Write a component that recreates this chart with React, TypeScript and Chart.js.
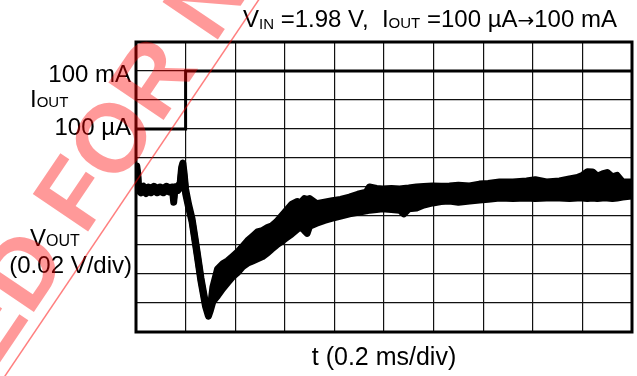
import React, { useEffect, useRef } from "react";
import { Chart, registerables } from "chart.js";

Chart.register(...registerables);

// time axis: 0.2 ms/div, 10 divisions
const timeMin = 0;
const timeMax = 2.0;
const timeStep = 0.2;

// VOUT axis: 0.02 V/div (values in mV deviation), 10 divisions
const voutMin = -100;
const voutMax = 100;
const voutStep = 20;

// IOUT trace (screen divisions, 0..10): 100 µA -> 100 mA step
const ioutTime = [0, 0.2, 0.2, 2.0];
const ioutLevel = [7, 7, 9, 9];

// VOUT trace (ms, mV): upper / lower envelope of the noisy trace
const voutTime = [
  0.0, 0.003, 0.007, 0.01, 0.02, 0.03, 0.04, 0.05, 0.06, 0.072, 0.085, 0.097, 0.11, 0.122, 0.135, 0.148,
  0.152, 0.156, 0.168, 0.178, 0.184, 0.189, 0.194, 0.2, 0.212, 0.226, 0.244, 0.262, 0.28, 0.292, 0.3,
  0.31, 0.329, 0.35, 0.369, 0.389, 0.409, 0.43, 0.45, 0.47, 0.49, 0.51, 0.53, 0.546, 0.567, 0.587, 0.607,
  0.627, 0.651, 0.66, 0.679, 0.69, 0.7, 0.728, 0.76, 0.792, 0.825, 0.861, 0.895, 0.929, 0.941, 0.97, 0.994,
  1.03, 1.063, 1.08, 1.1, 1.131, 1.16, 1.196, 1.23, 1.264, 1.3, 1.345, 1.385, 1.42, 1.466, 1.52, 1.575,
  1.61, 1.655, 1.708, 1.748, 1.78, 1.8, 1.82, 1.841, 1.86, 1.881, 1.9, 1.921, 1.94, 1.962, 2.0,
];
const voutUpper = [
  1.5, 14.5, 9.5, 0.5, -1, 0.5, -1.5, 0, -1, 0.5, -1, 0, -1, 0.5, -0.5, 0,
  -7.5, 0, 0.5, 2.5, 13.5, 16.5, 9.5, -1.5, -12, -22, -42, -63, -80, -87, -83,
  -69, -56.5, -53, -51, -48, -45, -41, -37, -34, -31, -30, -28, -27, -24, -20, -16,
  -12, -10, -11.5, -8, -8.5, -8, -11.5, -10.5, -9.5, -8.5, -7, -5, -3.5, 0, -1, -1.3,
  -1, -1.3, -1, -0.7, 0, 0.3, 0.7, 0.5, 0.7, 1.2, 0.7, 2, 2.5, 3.5, 3.5, 4.2,
  5, 3.5, 4.2, 5.6, 6.5, 8, 10.5, 10.4, 7.5, 9, 10, 7, 8, 3.5, 3.5,
];
const voutLower = [
  -1.5, 11.5, 6.5, -2.5, -4, -2.5, -4.5, -3, -4, -2.5, -4, -3, -4, -2.5, -3.5, -3,
  -10.5, -3, -2.5, -0.5, 10.5, 13.5, 6.5, -4.5, -14, -24, -44, -65, -82, -89, -85,
  -79, -75, -70, -66, -62, -59, -55, -52.5, -51, -49.5, -48, -45.5, -43, -40, -37.5, -35,
  -32.5, -29, -27, -30, -32, -27, -25, -23, -21.5, -20, -18.5, -17.5, -16.5, -16, -15.5, -15,
  -15.5, -16, -18.5, -15, -14.5, -12.5, -11, -10, -9.7, -10.5, -9.7, -9, -8.5, -7.6, -8, -7.6,
  -8, -7.6, -7.6, -8, -7.6, -7.6, -8, -7.6, -8, -7.6, -7.6, -8, -7.6, -7, -6.2,
];

const FONT = '"Liberation Sans", Arial, Helvetica, sans-serif';

type Run = { t: string; s: number; dy?: number; f?: string };

function drawRuns(ctx: CanvasRenderingContext2D, runs: Run[], x: number, y: number, align: "left" | "right" | "center") {
  let total = 0;
  const widths = runs.map((r) => {
    ctx.font = `${r.s}px ${r.f || FONT}`;
    const w = ctx.measureText(r.t).width;
    total += w;
    return w;
  });
  let cx = x;
  if (align === "right") cx = x - total;
  if (align === "center") cx = x - total / 2;
  ctx.textAlign = "left";
  ctx.textBaseline = "alphabetic";
  runs.forEach((r, i) => {
    ctx.font = `${r.s}px ${r.f || FONT}`;
    ctx.fillText(r.t, cx, y + (r.dy || 0));
    cx += widths[i];
  });
}

const decorPlugin = {
  id: "decor",
  beforeDatasetsDraw(chart: any) {
    const { ctx, chartArea } = chart;
    ctx.save();
    ctx.strokeStyle = "#000";
    ctx.lineWidth = 3;
    ctx.strokeRect(chartArea.left, chartArea.top, chartArea.right - chartArea.left, chartArea.bottom - chartArea.top);
    ctx.restore();
  },
  afterDraw(chart: any) {
    const { ctx, chartArea } = chart;
    ctx.save();
    ctx.fillStyle = "#000";
    // title
    drawRuns(
      ctx,
      [
        { t: "V", s: 24 },
        { t: "IN", s: 15, dy: 2 },
        { t: " =1.98 V,  I", s: 24 },
        { t: "OUT", s: 15, dy: 1 },
        { t: " =100 µA", s: 24 },
        { t: "→", s: 20, f: '"DejaVu Sans", sans-serif' },
        { t: "100 mA", s: 24 },
      ],
      430,
      27,
      "center"
    );
    // IOUT labels
    drawRuns(ctx, [{ t: "100 mA", s: 24 }], 131, 82, "right");
    drawRuns(ctx, [{ t: "I", s: 24 }, { t: "OUT", s: 15, dy: 0 }], 30, 107, "left");
    drawRuns(ctx, [{ t: "100 µA", s: 24 }], 131, 135, "right");
    // VOUT labels
    drawRuns(ctx, [{ t: "V", s: 24 }, { t: "OUT", s: 16, dy: 0 }], 30, 246, "left");
    drawRuns(ctx, [{ t: "(0.02 V/div)", s: 24 }], 132, 273, "right");
    // x label
    drawRuns(ctx, [{ t: "t (0.2 ms/div)", s: 25 }], (chartArea.left + chartArea.right) / 2, 365, "center");

    // watermark
    const ang = (-56 * Math.PI) / 180;
    ctx.strokeStyle = "rgba(255,0,0,0.5)";
    ctx.lineWidth = 1.5;
    ctx.beginPath();
    ctx.moveTo(7 - 40 * Math.cos(ang), 373 - 40 * Math.sin(ang));
    ctx.lineTo(7 + 500 * Math.cos(ang), 373 + 500 * Math.sin(ang));
    ctx.stroke();

    const wm = "NOT RECOMMENDED FOR NEW DESIGNS";
    const size = 97;
    ctx.font = `bold ${size}px ${FONT}`;
    const idx = wm.indexOf("FOR") + 1;
    const pre = ctx.measureText(wm.slice(0, idx)).width;
    const ow = ctx.measureText("O").width;
    const capH = size * 0.716;
    const cxO = 110, cyO = 137;
    const bx = cxO + (capH / 2) * Math.sin(-ang);
    const by = cyO + (capH / 2) * Math.cos(-ang);
    ctx.translate(bx, by);
    ctx.rotate(ang);
    ctx.fillStyle = "rgba(255,0,0,0.4)";
    ctx.textBaseline = "alphabetic";
    ctx.textAlign = "left";
    ctx.fillText(wm, -(pre + ow / 2), 0);
    ctx.restore();
  },
};

export default function App() {
  const ref = useRef<HTMLCanvasElement | null>(null);
  useEffect(() => {
    if (!ref.current) return;
    const ticksX: number[] = [];
    for (let i = 0; i <= Math.round((timeMax - timeMin) / timeStep); i++) ticksX.push(timeMin + i * timeStep);
    const chart = new Chart(ref.current, {
      type: "line",
      data: {
        datasets: [
          {
            label: "IOUT",
            data: ioutTime.map((t, i) => ({ x: t, y: ioutLevel[i] })),
            yAxisID: "yI",
            borderColor: "#000",
            borderWidth: 3,
            pointRadius: 0,
            fill: false,
            tension: 0,
          },
          {
            label: "VOUT upper",
            data: voutTime.map((t, i) => ({ x: t, y: voutUpper[i] })),
            yAxisID: "y",
            borderColor: "#000",
            backgroundColor: "#000",
            borderWidth: 7,
            borderJoinStyle: "round",
            borderCapStyle: "round",
            pointRadius: 0,
            fill: "+1",
            tension: 0,
          },
          {
            label: "VOUT lower",
            data: voutTime.map((t, i) => ({ x: t, y: voutLower[i] })),
            yAxisID: "y",
            borderColor: "#000",
            borderWidth: 7,
            borderJoinStyle: "round",
            borderCapStyle: "round",
            pointRadius: 0,
            fill: false,
            tension: 0,
          },
        ],
      },
      options: {
        animation: false,
        responsive: true,
        maintainAspectRatio: false,
        layout: { padding: { left: 136, top: 42, right: 5, bottom: 44 } },
        plugins: { legend: { display: false }, tooltip: { enabled: false } },
        scales: {
          x: {
            type: "linear",
            min: timeMin,
            max: timeMax,
            afterBuildTicks: (s: any) => {
              s.ticks = ticksX.map((v) => ({ value: v }));
            },
            ticks: { display: false },
            grid: { color: "#111", lineWidth: 1.2, drawTicks: false },
            border: { display: false },
          },
          y: {
            type: "linear",
            min: voutMin,
            max: voutMax,
            ticks: { display: false, stepSize: voutStep },
            grid: { color: "#111", lineWidth: 1.2, drawTicks: false },
            border: { display: false },
          },
          yI: {
            type: "linear",
            min: 0,
            max: 10,
            display: false,
          },
        },
      },
      plugins: [decorPlugin],
    });
    return () => chart.destroy();
  }, []);
  return (
    <div style={{ position: "absolute", left: 0, top: 0, width: 637, height: 376, background: "#fff" }}>
      <canvas ref={ref} />
    </div>
  );
}
